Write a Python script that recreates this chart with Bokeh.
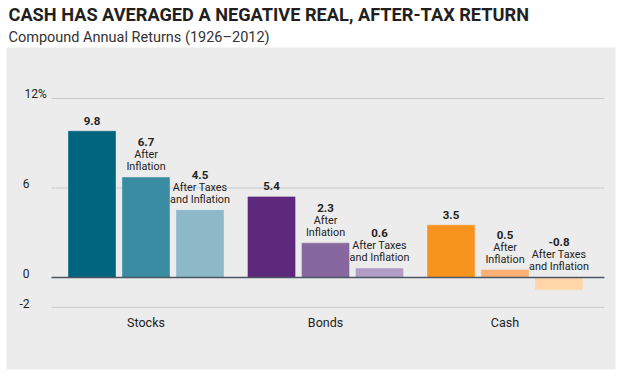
from bokeh.plotting import figure
from bokeh.models import ColumnDataSource, Range1d, Title
from bokeh.core.properties import value
from bokeh.embed import file_html
from bokeh.resources import INLINE

# ---- data ----
categories = ["Stocks", "Bonds", "Cash"]
series = ["Nominal", "After Inflation", "After Taxes and Inflation"]
stocks = [9.8, 6.7, 4.5]
bonds = [5.4, 2.3, 0.6]
cash = [3.5, 0.5, -0.8]
sublabels = [[], ["After", "Inflation"], ["After Taxes", "and Inflation"]]
y_ticks = [12, 6, 0, -2]
y_tick_labels = ["12%", "6", "0", "-2"]
palette = {
    "Stocks": ["#00657e", "#3a8ca3", "#8db8c8"],
    "Bonds": ["#5e287c", "#8767a0", "#b19dc6"],
    "Cash": ["#f7941e", "#fbb173", "#fed6a8"],
}

values = {"Stocks": stocks, "Bonds": bonds, "Cash": cash}

# ---- layout constants ----
PITCH = 0.3008   # bar spacing in group units
BAR_W = 0.262
FONT = "Roboto"

p = figure(width=623, height=378, output_backend="svg", toolbar_location=None,
           title=None,
           x_range=Range1d(-0.7772, 2.6156), y_range=Range1d(-6.166, 15.415),
           min_border_left=6, min_border_right=8, min_border_top=47,
           min_border_bottom=9)
p.background_fill_color = "#ececec"
p.border_fill_color = "white"
p.outline_line_color = None
p.xaxis.visible = False
p.yaxis.visible = False
p.xgrid.visible = False
p.ygrid.visible = False

sub = Title(text="Compound Annual Returns (1926\u20132012)", text_font=FONT,
            text_font_size="14.5px", text_font_style="normal", text_color="#333333",
            align="left", offset=2, standoff=4)
p.add_layout(sub, "above")
main = Title(text="CASH HAS AVERAGED A NEGATIVE REAL, AFTER-TAX RETURN",
             text_font=FONT, text_font_size="18.2px",
             text_font_style="bold", text_color="#231f20", align="left", offset=2,
             standoff=0)
p.add_layout(main, "above")

# gridlines
GX0, GX1 = -0.5265, 2.554
for t in y_ticks:
    if t == 0:
        continue
    p.segment(x0=GX0, x1=GX1, y0=t, y1=t, line_color="#c6c9cc", line_width=1)

# bars
xs, tops, cols = [], [], []
for g, cat in enumerate(categories):
    for b, v in enumerate(values[cat]):
        xs.append(g + (b - 1) * PITCH)
        tops.append(v)
        cols.append(palette[cat][b])
src = ColumnDataSource(dict(x=xs, top=tops, color=cols))
p.vbar(x="x", top="top", bottom=0, width=BAR_W, fill_color="color",
       line_color="color", line_alpha=0.6, source=src)

# zero line on top
p.segment(x0=GX0, x1=GX1, y0=0, y1=0, line_color="#4b5663", line_width=1.6)

# value labels and sublabels
vx, vy, vt, vo = [], [], [], []
sx, sy, st, so = [], [], [], []
for g, cat in enumerate(categories):
    for b, v in enumerate(values[cat]):
        x = g + (b - 1) * PITCH
        base = max(v, 0)
        lines = sublabels[b]
        n = len(lines)
        for i, line in enumerate(lines):
            sx.append(x); sy.append(base); st.append(line)
            so.append(-11 - 12 * (n - 1 - i))
        vx.append(x); vy.append(base); vt.append(f"{v:.1f}")
        vo.append(-10.5 if n == 0 else -11 - 12 * (n - 1) - 12.5)

p.text(x="x", y="y", text="t", y_offset="o",
       source=ColumnDataSource(dict(x=vx, y=vy, t=vt, o=vo)),
       text_font=value(FONT), text_font_size="11.5px", text_font_style="bold",
       text_color="#222222", text_align="center", text_baseline="middle")
p.text(x="x", y="y", text="t", y_offset="o",
       source=ColumnDataSource(dict(x=sx, y=sy, t=st, o=so)),
       text_font=value(FONT), text_font_size="10.8px",
       text_color="#222222", text_align="center", text_baseline="middle")

# y tick labels
TX = -0.649
num = [(t, l) for t, l in zip(y_ticks, y_tick_labels) if not l.endswith("%")]
pct = [(t, l) for t, l in zip(y_ticks, y_tick_labels) if l.endswith("%")]
p.text(x=[TX] * len(num), y=[t for t, _ in num], text=[l for _, l in num],
       y_offset=-4,
       text_font=value(FONT), text_font_size="12px", text_color="#222222",
       text_align="right", text_baseline="middle")
p.text(x=[TX - 0.028] * len(pct), y=[t for t, _ in pct], text=[l for _, l in pct],
       y_offset=-4,
       text_font=value(FONT), text_font_size="12px", text_color="#222222",
       text_align="left", text_baseline="middle")

# category labels
p.text(x=list(range(len(categories))), y=[-3.0] * len(categories), text=categories,
       text_font=value(FONT), text_font_size="12.5px", text_color="#222222",
       text_align="center", text_baseline="middle")

open("out.html", "w").write(file_html(p, INLINE))
